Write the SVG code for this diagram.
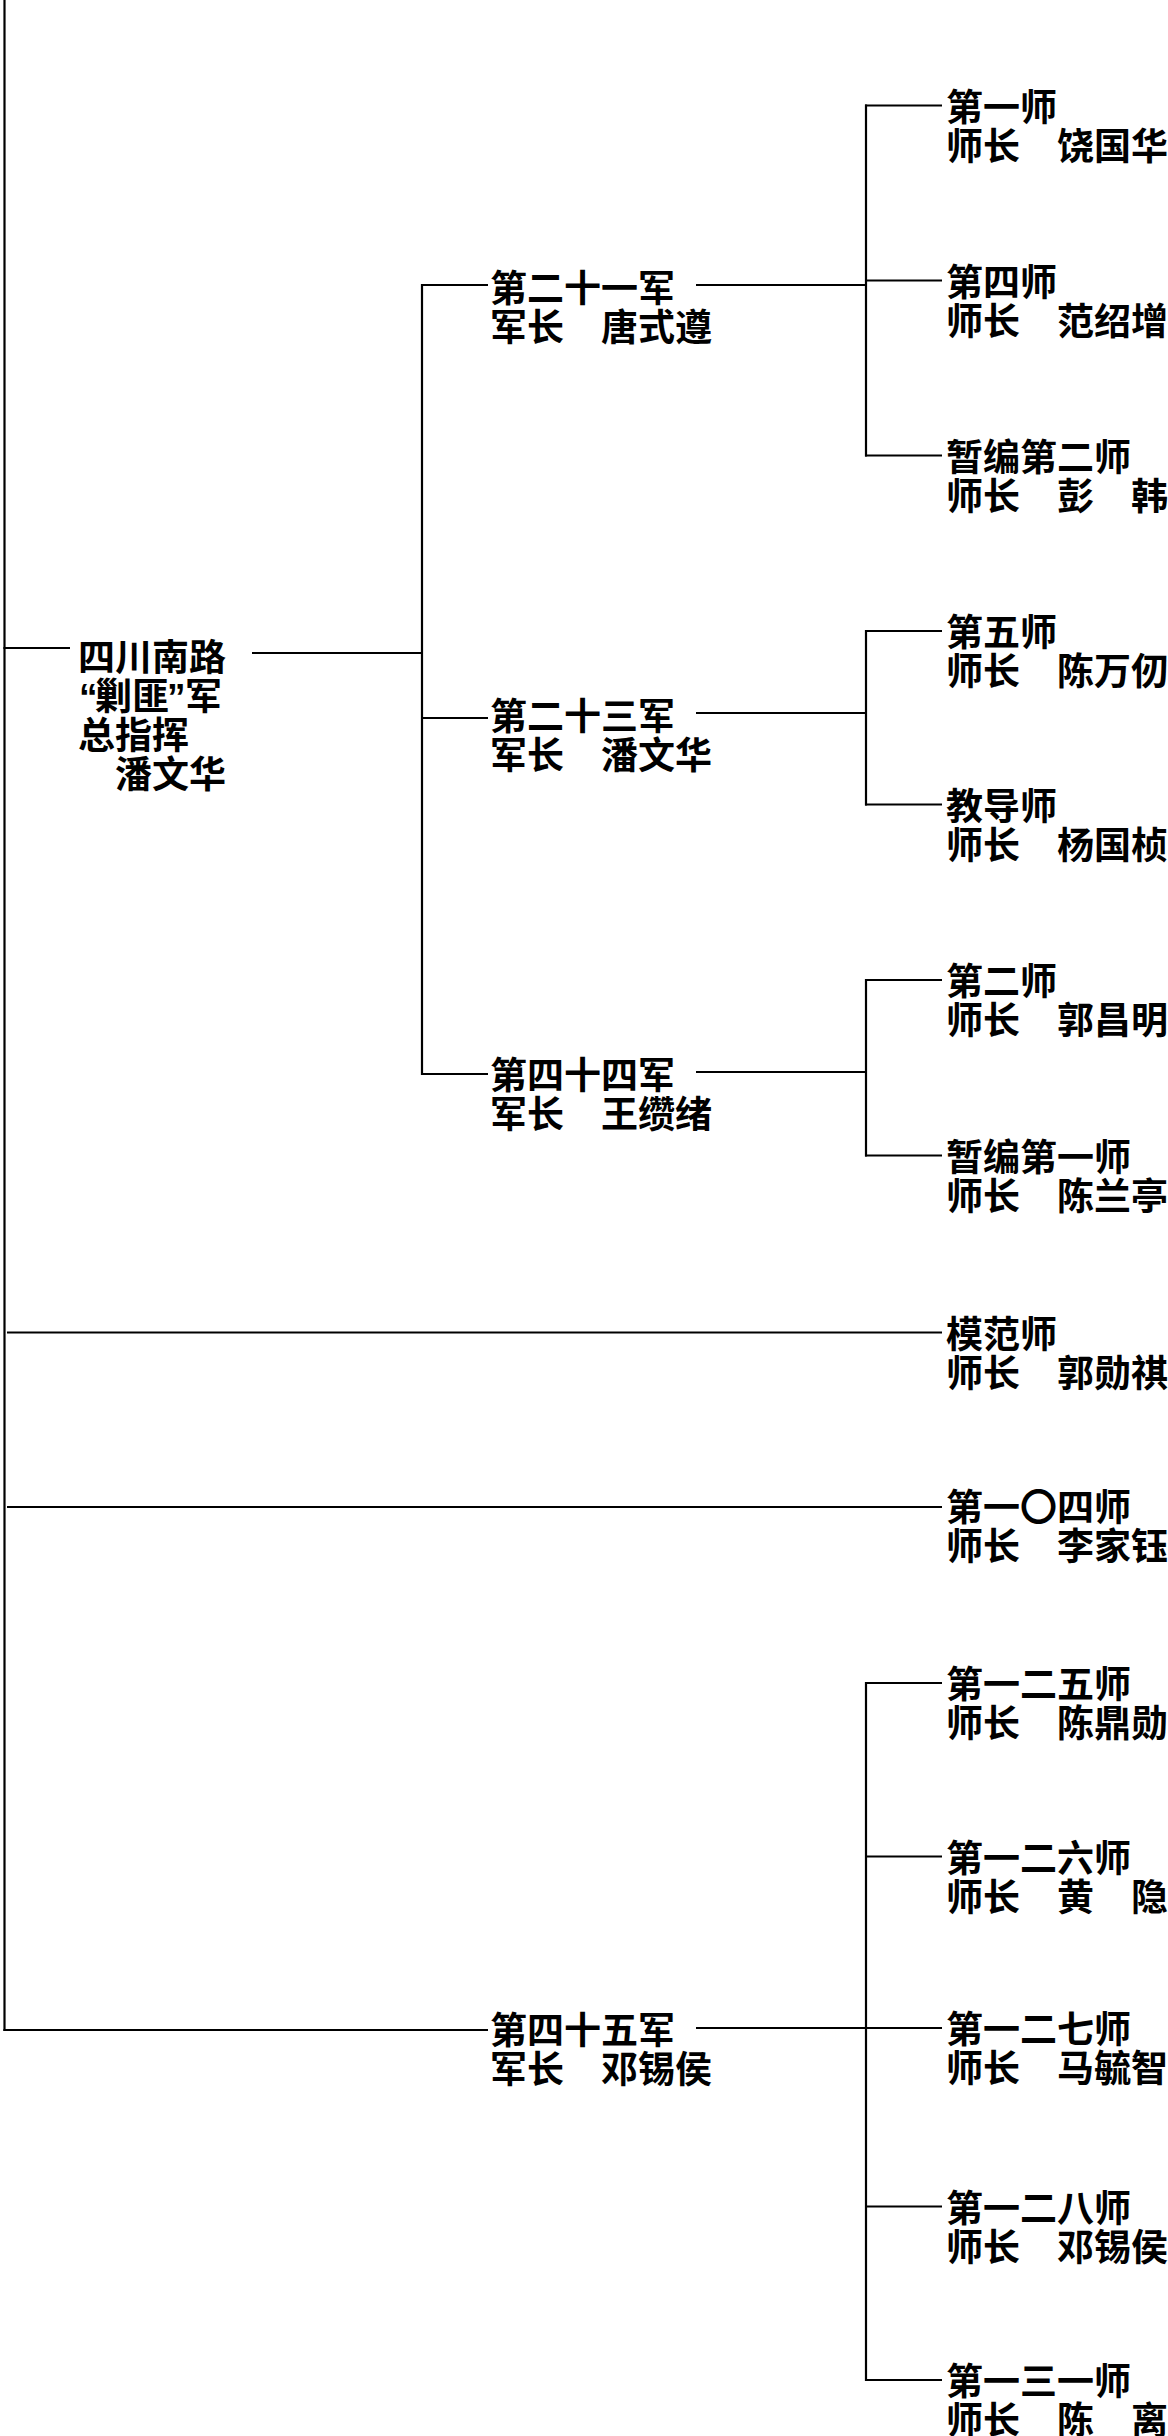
<svg xmlns="http://www.w3.org/2000/svg" width="1168" height="2436" viewBox="0 0 1168 2436">
<style>
.bg{fill:#ffffff}
.c line{stroke:#000;stroke-width:2.2;fill:none}
.t{font-family:"Noto Sans CJK SC","Noto Sans CJK TC",sans-serif;font-size:37px;font-weight:700;fill:#000}
.q{font-family:"Liberation Sans","DejaVu Sans",sans-serif;font-weight:700}
</style>
<rect class="bg" x="0" y="0" width="1168" height="2436"/>
<g id="connectors" class="c">
  <line x1="4.5" y1="0" x2="4.5" y2="2031"/>
  <line x1="3.4" y1="648" x2="70" y2="648"/>
  <line x1="252" y1="653" x2="423" y2="653"/>
  <line x1="422" y1="284" x2="422" y2="1075"/>
  <line x1="421" y1="285" x2="488" y2="285"/>
  <line x1="421" y1="718" x2="488" y2="718"/>
  <line x1="421" y1="1074" x2="488" y2="1074"/>
  <line x1="3.4" y1="2030" x2="488" y2="2030"/>
  <line x1="696" y1="285" x2="867" y2="285"/>
  <line x1="696" y1="713" x2="867" y2="713"/>
  <line x1="696" y1="1072" x2="867" y2="1072"/>
  <line x1="696" y1="2028" x2="942" y2="2028"/>
  <line x1="866" y1="104.5" x2="866" y2="456.5"/>
  <line x1="866" y1="630" x2="866" y2="805.5"/>
  <line x1="866" y1="979" x2="866" y2="1156.5"/>
  <line x1="866" y1="1682" x2="866" y2="2381"/>
  <line x1="865" y1="105.5" x2="942" y2="105.5"/>
  <line x1="865" y1="280.5" x2="942" y2="280.5"/>
  <line x1="865" y1="455.5" x2="942" y2="455.5"/>
  <line x1="865" y1="631" x2="942" y2="631"/>
  <line x1="865" y1="804.5" x2="942" y2="804.5"/>
  <line x1="865" y1="980" x2="942" y2="980"/>
  <line x1="865" y1="1155.5" x2="942" y2="1155.5"/>
  <line x1="7" y1="1332.5" x2="942" y2="1332.5"/>
  <line x1="7" y1="1507" x2="942" y2="1507"/>
  <line x1="865" y1="1683" x2="942" y2="1683"/>
  <line x1="865" y1="1856.5" x2="942" y2="1856.5"/>
  <line x1="865" y1="2206.5" x2="942" y2="2206.5"/>
  <line x1="865" y1="2380" x2="942" y2="2380"/>
</g>
<g id="root">
  <text class="t" x="78" y="671">四川南路</text>
  <text class="t" y="710"><tspan class="q" x="79">“</tspan><tspan x="95">剿匪</tspan><tspan class="q" x="167">”</tspan><tspan x="185">军</tspan></text>
  <text class="t" x="78" y="749">总指挥</text>
  <text class="t" x="78" y="788">　潘文华</text>
</g>
<g id="army21">
  <text class="t" x="490" y="302">第二十一军</text>
  <text class="t" x="490" y="341">军长　唐式遵</text>
</g>
<g id="army23">
  <text class="t" x="490" y="730">第二十三军</text>
  <text class="t" x="490" y="769">军长　潘文华</text>
</g>
<g id="army44">
  <text class="t" x="490" y="1089">第四十四军</text>
  <text class="t" x="490" y="1128">军长　王缵绪</text>
</g>
<g id="army45">
  <text class="t" x="490" y="2044">第四十五军</text>
  <text class="t" x="490" y="2083">军长　邓锡侯</text>
</g>
<g id="div1">
  <text class="t" x="946" y="120.5">第一师</text>
  <text class="t" x="946" y="159.5">师长　饶国华</text>
</g>
<g id="div4">
  <text class="t" x="946" y="296">第四师</text>
  <text class="t" x="946" y="335">师长　范绍增</text>
</g>
<g id="divT2">
  <text class="t" x="946" y="471">暂编第二师</text>
  <text class="t" x="946" y="510">师长　彭　韩</text>
</g>
<g id="div5">
  <text class="t" x="946" y="646">第五师</text>
  <text class="t" x="946" y="685">师长　陈万仞</text>
</g>
<g id="divJD">
  <text class="t" x="946" y="820">教导师</text>
  <text class="t" x="946" y="859">师长　杨国桢</text>
</g>
<g id="div2">
  <text class="t" x="946" y="995">第二师</text>
  <text class="t" x="946" y="1034">师长　郭昌明</text>
</g>
<g id="divT1">
  <text class="t" x="946" y="1171">暂编第一师</text>
  <text class="t" x="946" y="1210">师长　陈兰亭</text>
</g>
<g id="divMF">
  <text class="t" x="946" y="1347.5">模范师</text>
  <text class="t" x="946" y="1386.5">师长　郭勋祺</text>
</g>
<g id="div104">
  <text class="t" x="946" y="1521">第一〇四师</text>
  <text class="t" x="946" y="1560">师长　李家钰</text>
</g>
<g id="div125">
  <text class="t" x="946" y="1698">第一二五师</text>
  <text class="t" x="946" y="1737">师长　陈鼎勋</text>
</g>
<g id="div126">
  <text class="t" x="946" y="1871.5">第一二六师</text>
  <text class="t" x="946" y="1910.5">师长　黄　隐</text>
</g>
<g id="div127">
  <text class="t" x="946" y="2043">第一二七师</text>
  <text class="t" x="946" y="2082">师长　马毓智</text>
</g>
<g id="div128">
  <text class="t" x="946" y="2221.5">第一二八师</text>
  <text class="t" x="946" y="2260.5">师长　邓锡侯</text>
</g>
<g id="div131">
  <text class="t" x="946" y="2395">第一三一师</text>
  <text class="t" x="946" y="2434">师长　陈　离</text>
</g>
</svg>
